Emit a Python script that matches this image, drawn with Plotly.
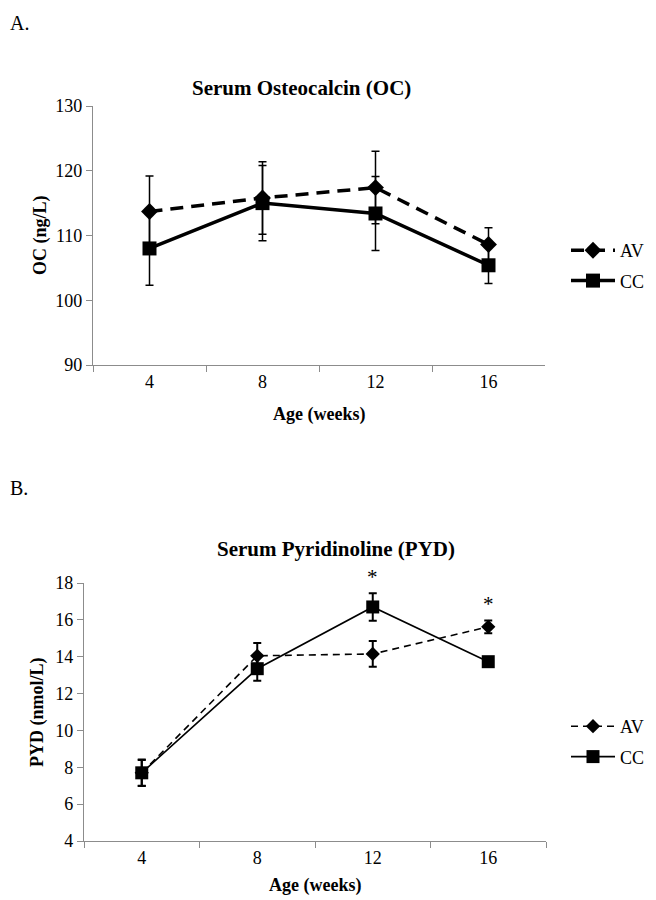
import plotly.graph_objects as go

# ---- data ----
ages = ["4", "8", "12", "16"]

oc_av = [113.7, 115.8, 117.4, 108.6]
oc_av_err = [5.5, 5.6, 5.6, 2.6]
oc_cc = [108.0, 115.0, 113.4, 105.4]
oc_cc_err = [5.7, 5.8, 5.7, 2.8]

pyd_av = [7.7, 14.05, 14.15, 15.62]
pyd_av_err = [0.7, 0.7, 0.7, 0.35]
pyd_cc = [7.7, 13.35, 16.7, 13.73]
pyd_cc_err = [0.72, 0.65, 0.75, 0.2]

sig_ages = ["12", "16"]

oc_ticks = [90, 100, 110, 120, 130]
pyd_ticks = [4, 6, 8, 10, 12, 14, 16, 18]

W, H = 656, 900
OFF = 8  # page body margin
FONT = "Liberation Serif"
AXC = "#8c8c8c"


def fx(p):
    return (p - OFF) / W


def fy(p):
    return 1 - (p - OFF) / H


def px_x(a, b):
    return [fx(a), fx(b)]


def px_y(top, bottom):
    return [fy(bottom), fy(top)]


fig = go.Figure()

fig.add_trace(go.Scatter(
    x=ages, y=oc_av, name="AV", mode="lines+markers",
    line=dict(color="black", width=3.5, dash="13px,8px"),
    marker=dict(symbol="diamond", size=13, color="black"),
    error_y=dict(type="data", array=oc_av_err, color="black", thickness=1.5, width=4),
    xaxis="x", yaxis="y", legend="legend", legendgroup="a1"))
fig.add_trace(go.Scatter(
    x=ages, y=oc_cc, name="CC", mode="lines+markers",
    line=dict(color="black", width=3.5),
    marker=dict(symbol="square", size=14, color="black"),
    error_y=dict(type="data", array=oc_cc_err, color="black", thickness=1.5, width=4),
    xaxis="x", yaxis="y", legend="legend", legendgroup="a2"))

fig.add_trace(go.Scatter(
    x=ages, y=pyd_av, name="AV", mode="lines+markers",
    line=dict(color="black", width=1.6, dash="7px,5px"),
    marker=dict(symbol="diamond", size=11, color="black"),
    error_y=dict(type="data", array=pyd_av_err, color="black", thickness=2, width=4),
    xaxis="x2", yaxis="y2", legend="legend2", legendgroup="b1"))
fig.add_trace(go.Scatter(
    x=ages, y=pyd_cc, name="CC", mode="lines+markers",
    line=dict(color="black", width=1.6),
    marker=dict(symbol="square", size=13, color="black"),
    error_y=dict(type="data", array=pyd_cc_err, color="black", thickness=2, width=4),
    xaxis="x2", yaxis="y2", legend="legend2", legendgroup="b2"))

axis_common = dict(
    showline=True, linecolor=AXC, linewidth=1.3, showgrid=False, zeroline=False,
    ticks="outside", tickcolor=AXC, ticklen=6, tickwidth=1.3, automargin=False,
    tickfont=dict(family=FONT, size=18, color="black"),
)

fig.update_layout(
    template="none",
    width=W, height=H, margin=dict(l=0, r=0, t=0, b=0, pad=0, autoexpand=False),
    paper_bgcolor="white", plot_bgcolor="white",
    font=dict(family=FONT, color="black"),
    xaxis=dict(domain=px_x(93, 545), anchor="y", type="category",
               categoryorder="array", categoryarray=ages, range=[-0.5, 3.5],
               tickson="boundaries", **axis_common),
    yaxis=dict(domain=px_y(106, 365), anchor="x", range=[90, 130],
               tickvals=oc_ticks, **axis_common),
    xaxis2=dict(domain=px_x(84, 546), anchor="y2", type="category",
                categoryorder="array", categoryarray=ages, range=[-0.5, 3.5],
                tickson="boundaries", **axis_common),
    yaxis2=dict(domain=px_y(583, 841), anchor="x2", range=[4, 18],
                tickvals=pyd_ticks, **axis_common),
    legend=dict(x=fx(566), y=fy(232), xanchor="left", yanchor="top",
                font=dict(family=FONT, size=18), tracegroupgap=4, itemwidth=44,
                traceorder="grouped", bgcolor="rgba(0,0,0,0)"),
    legend2=dict(x=fx(566), y=fy(708), xanchor="left", yanchor="top",
                 font=dict(family=FONT, size=18), tracegroupgap=4, itemwidth=44,
                 traceorder="grouped", bgcolor="rgba(0,0,0,0)"),
)

ann = []


def add_text(text, x, y, size, angle=0, xanchor="center"):
    ann.append(dict(text=text, x=fx(x), y=fy(y), xref="paper", yref="paper",
                    xanchor=xanchor, yanchor="middle", textangle=angle,
                    showarrow=False, font=dict(family=FONT, size=size)))


add_text("A.", OFF, 23, 20, xanchor="left")
add_text("B.", OFF, 488, 20, xanchor="left")
add_text("<b>Serum Osteocalcin (OC)</b>", 301, 88, 21)
add_text("<b>Serum Pyridinoline (PYD)</b>", 336, 549, 21)
add_text("<b>OC (ng/L)</b>", 40, 235, 18, angle=-90)
add_text("<b>PYD (nmol/L)</b>", 37, 712, 18, angle=-90)
add_text("<b>Age (weeks)</b>", 319, 414, 18)
add_text("<b>Age (weeks)</b>", 315, 885, 18)

for a in sig_ages:
    i = ages.index(a)
    top = max(pyd_av[i] + pyd_av_err[i], pyd_cc[i] + pyd_cc_err[i])
    ann.append(dict(text="*", x=i, y=top, xref="x2", yref="y2",
                    xanchor="center", yanchor="bottom", yshift=2,
                    showarrow=False, font=dict(family=FONT, size=21)))

fig.update_layout(annotations=ann)
fig.write_html("out.html")
